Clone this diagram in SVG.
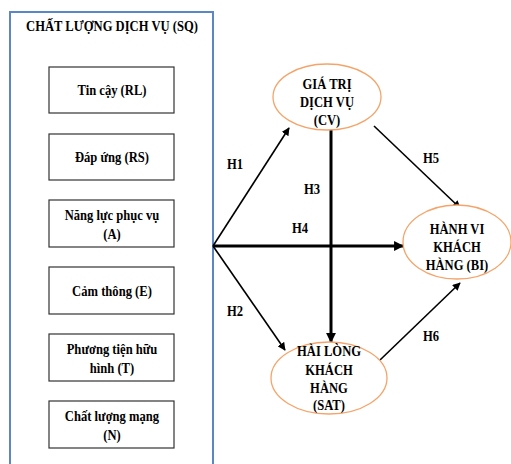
<svg xmlns="http://www.w3.org/2000/svg" width="511" height="464" viewBox="0 0 511 464" font-family="'Liberation Serif', 'Times New Roman', 'DejaVu Serif', serif">
<style>
text{font-family:'Liberation Serif','Times New Roman','DejaVu Serif',serif;font-weight:bold;font-size:15px;fill:#000;text-anchor:middle;transform-box:fill-box;transform-origin:center;transform:scaleX(0.84)}
.box{fill:#fff;stroke:#333;stroke-width:1.2}
.ell{fill:#fff;stroke:#f4a46a;stroke-width:1.3}
.thin{stroke:#000;stroke-width:1.6;fill:none}
.thick{stroke:#000;stroke-width:3;fill:none}
</style>
<defs>
<marker id="ah" viewBox="0 0 10 10" refX="9" refY="5" markerWidth="5" markerHeight="5" markerUnits="strokeWidth" orient="auto"><path d="M0,0 L10,5 L0,10 z" fill="#000"/></marker>
<marker id="ah2" viewBox="0 0 10 10" refX="9" refY="5" markerWidth="3.3" markerHeight="3.3" markerUnits="strokeWidth" orient="auto"><path d="M0,0 L10,5 L0,10 z" fill="#000"/></marker>
</defs>
<rect width="511" height="464" fill="#fff"/>
<g id="SQ">
<path d="M10,470 V12 H213 V470" fill="#fff" stroke="#5b87c2" stroke-width="2"/>
<text x="112" y="31">CHẤT LƯỢNG DỊCH VỤ (SQ)</text>
</g>
<g id="RL"><rect class="box" x="49" y="67" width="125" height="46"/><text x="112" y="95">Tin cậy (RL)</text></g>
<g id="RS"><rect class="box" x="49" y="134" width="125" height="46"/><text x="112" y="162">Đáp ứng (RS)</text></g>
<g id="A"><rect class="box" x="49" y="200" width="125" height="47"/><text x="112" y="220">Năng lực phục vụ</text><text x="112" y="239">(A)</text></g>
<g id="E"><rect class="box" x="49" y="267" width="125" height="47"/><text x="112" y="296">Cảm thông (E)</text></g>
<g id="T"><rect class="box" x="49" y="334" width="125" height="47"/><text x="112" y="354">Phương tiện hữu</text><text x="112" y="373">hình (T)</text></g>
<g id="N"><rect class="box" x="49" y="401" width="125" height="47"/><text x="112" y="421">Chất lượng mạng</text><text x="112" y="440">(N)</text></g>
<g id="connectors">
<line class="thin" x1="213" y1="246" x2="289" y2="128" marker-end="url(#ah)"/>
<line class="thin" x1="213" y1="246" x2="285" y2="350" marker-end="url(#ah)"/>
<line class="thick" x1="331" y1="130" x2="331" y2="342" marker-end="url(#ah2)"/>
<line class="thick" x1="213" y1="246" x2="403" y2="246" marker-end="url(#ah2)"/>
<line class="thin" x1="374" y1="126" x2="460" y2="208" marker-end="url(#ah)"/>
<line class="thin" x1="380" y1="360" x2="460" y2="283" marker-end="url(#ah)"/>
<text x="235" y="169">H1</text>
<text x="235" y="316">H2</text>
<text x="312" y="194">H3</text>
<text x="300" y="233">H4</text>
<text x="431" y="163">H5</text>
<text x="431" y="341">H6</text>
</g>
<g id="CV"><ellipse class="ell" cx="327" cy="97" rx="54" ry="33"/><text x="327" y="89">GIÁ TRỊ</text><text x="327" y="107">DỊCH VỤ</text><text x="327" y="125">(CV)</text></g>
<g id="BI"><ellipse class="ell" cx="457" cy="242" rx="54" ry="37"/><text x="457" y="234">HÀNH VI</text><text x="457" y="252">KHÁCH</text><text x="457" y="270">HÀNG (BI)</text></g>
<g id="SAT"><ellipse class="ell" cx="329" cy="378" rx="58" ry="36"/><text x="329" y="356">HÀI LÒNG</text><text x="329" y="375">KHÁCH</text><text x="329" y="393">HÀNG</text><text x="329" y="410">(SAT)</text></g>
</svg>
